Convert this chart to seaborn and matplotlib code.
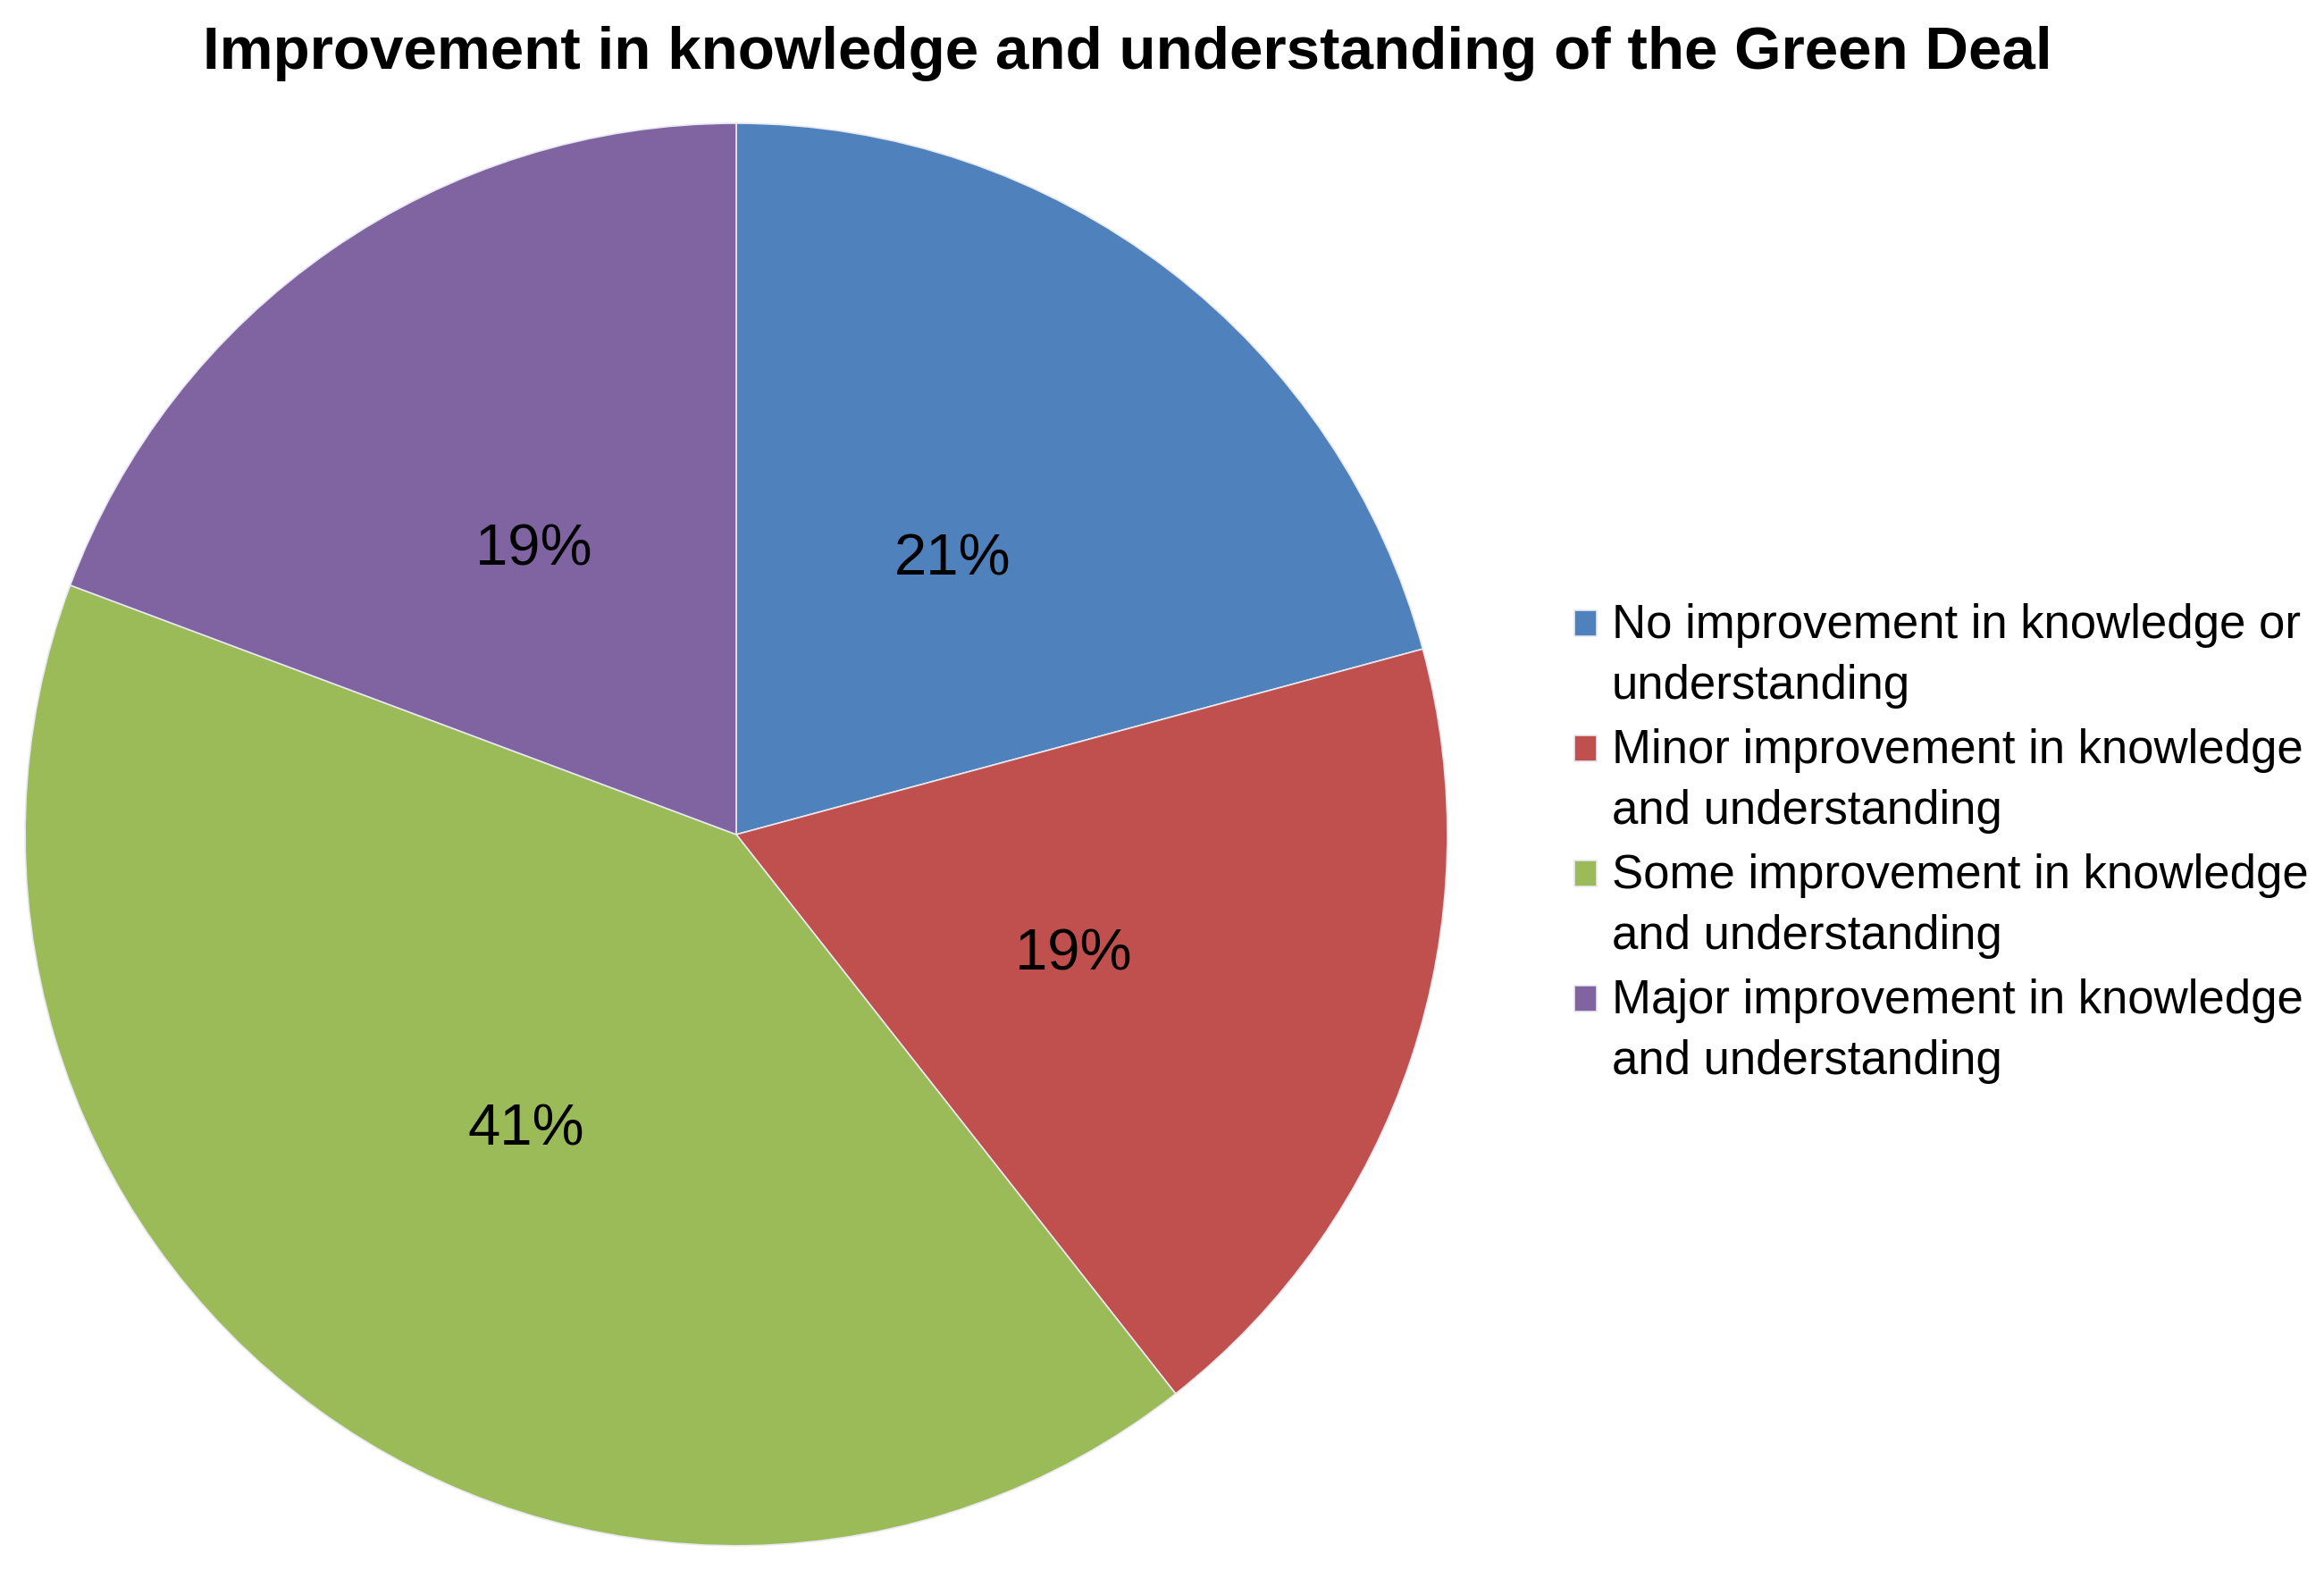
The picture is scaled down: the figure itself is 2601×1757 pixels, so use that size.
import matplotlib
matplotlib.use('Agg')
import matplotlib.pyplot as plt
import matplotlib.patches as mpatches
from matplotlib.legend_handler import HandlerPatch
import seaborn as sns

# Data (share of respondents, %)
categories = ['No improvement in knowledge or\nunderstanding',
              'Minor improvement in knowledge\nand understanding',
              'Some improvement in knowledge\nand understanding',
              'Major improvement in knowledge\nand understanding']
shares = [20.8, 18.6, 41.3, 19.3]
colors = ['#4F81BD', '#C0504D', '#9BBB59', '#8064A2']
title = 'Improvement in knowledge and understanding of the Green Deal'

sns.set_theme(style='white')
plt.rcParams['font.family'] = ['Liberation Sans', 'DejaVu Sans']
plt.rcParams['text.color'] = 'black'

fig = plt.figure(figsize=(26.01, 17.58), dpi=100)
ax = fig.add_axes([0.0108, 0.0154, 0.612, 0.9056])

palette = sns.color_palette(colors)
wedges, texts, autotexts = ax.pie(
    shares, colors=palette, startangle=90, counterclock=False,
    autopct='%.0f%%', pctdistance=0.5,
    wedgeprops={'edgecolor': '#E8E8F0', 'linewidth': 1.2},
    textprops={'fontsize': 47, 'color': 'black'})
# nudge percentages down a touch
for t in autotexts:
    x, y = t.get_position()
    t.set_position((x, y - 0.01))
ax.set_xlim(-1, 1)
ax.set_ylim(-1, 1)
ax.set_aspect('equal')

fig.text(0.485, 0.966, title, ha='center', va='center',
         fontsize=48.5, fontweight='bold', color='black')


# legend squares sit next to the first line of each label
def top_square(legend, orig_handle, xdescent, ydescent, width, height, fontsize):
    return mpatches.Rectangle((-xdescent, -ydescent + 26), width, height)


leg = fig.legend(wedges, categories, loc='center left',
                 bbox_to_anchor=(0.6774, 0.463), frameon=False,
                 fontsize=38, handlelength=0.47, handleheight=0.47,
                 handletextpad=0.32, labelspacing=0.42, borderpad=0, borderaxespad=0,
                 handler_map={mpatches.Wedge: HandlerPatch(patch_func=top_square)})
plt.setp(leg.get_texts(), linespacing=1.46)

plt.savefig('out.png', dpi=100)
